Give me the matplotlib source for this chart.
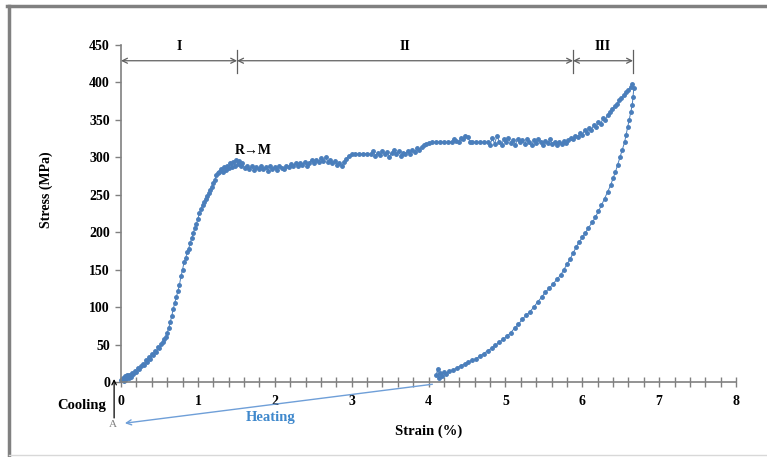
import matplotlib.pyplot as plt
from matplotlib.ticker import MultipleLocator
from matplotlib.lines import Line2D

# loading, elastic rise: strain (%) / stress (MPa)
rise_strain = [0.00, 0.02, 0.04, 0.05, 0.07, 0.08, 0.10, 0.11, 0.13, 0.14,
               0.16, 0.18, 0.20, 0.22, 0.24, 0.26, 0.28, 0.30, 0.32, 0.34,
               0.36, 0.38, 0.40, 0.42, 0.44, 0.46, 0.48, 0.50, 0.52, 0.54,
               0.56, 0.58, 0.60, 0.62, 0.64, 0.66, 0.68, 0.70, 0.72, 0.74,
               0.76, 0.78, 0.80, 0.82, 0.84, 0.86, 0.88, 0.90, 0.92, 0.94,
               0.96, 0.98, 1.00, 1.02, 1.04, 1.06, 1.08, 1.10, 1.12, 1.14,
               1.16, 1.18, 1.20, 1.22, 1.24, 1.26, 1.28, 1.30]
rise_stress = [3, 6, 2, 8, 4, 9, 5, 10, 7, 12,
               11, 15, 13, 19, 17, 22, 24, 23, 29, 27,
               33, 31, 38, 36, 42, 40, 47, 45, 51, 53,
               57, 60, 66, 72, 80, 88, 98, 106, 114, 121,
               130, 141, 150, 160, 165, 173, 178, 186, 192, 199,
               206, 211, 218, 226, 231, 236, 240, 244, 249, 252,
               256, 261, 266, 270, 276, 279, 281, 284]

# loading, stress plateau
plateau_strain = [1.32, 1.34, 1.36, 1.38, 1.40, 1.42, 1.44, 1.46, 1.48, 1.50,
                  1.52, 1.54, 1.56, 1.58, 1.61, 1.64, 1.67, 1.70, 1.73, 1.76,
                  1.79, 1.82, 1.85, 1.88, 1.91, 1.94, 1.97, 2.00, 2.03, 2.06,
                  2.09, 2.12, 2.15, 2.18, 2.21, 2.24, 2.27, 2.30, 2.33, 2.36,
                  2.39, 2.42, 2.45, 2.48, 2.51, 2.54, 2.57, 2.60, 2.63, 2.66,
                  2.69, 2.72, 2.75, 2.78, 2.81, 2.84, 2.87, 2.90, 2.93, 2.96,
                  3.00, 3.05, 3.10, 3.15, 3.20, 3.25, 3.28, 3.31, 3.34, 3.37,
                  3.40, 3.43, 3.46, 3.49, 3.52, 3.55, 3.58, 3.61, 3.64, 3.67,
                  3.70, 3.73, 3.76, 3.79, 3.82, 3.85, 3.88, 3.91, 3.94, 3.97,
                  4.00, 4.05, 4.10, 4.15, 4.20, 4.25, 4.30, 4.33, 4.36, 4.39,
                  4.42, 4.45, 4.48, 4.51, 4.54, 4.57, 4.62, 4.67, 4.72, 4.77,
                  4.80, 4.83, 4.86, 4.89, 4.92, 4.95, 4.98, 5.01, 5.04, 5.07,
                  5.10, 5.13, 5.16, 5.19, 5.22, 5.25, 5.28, 5.31, 5.34, 5.37,
                  5.40, 5.43, 5.46, 5.49, 5.52, 5.55, 5.58, 5.61, 5.64, 5.67,
                  5.70, 5.73, 5.76, 5.79, 5.82, 5.85]
plateau_stress = [280, 287, 283, 289, 286, 292, 287, 294, 289, 297,
                  291, 295, 288, 292, 286, 289, 284, 288, 283, 287,
                  285, 289, 284, 287, 282, 288, 285, 287, 283, 289,
                  286, 284, 289, 287, 291, 288, 292, 289, 293, 290,
                  294, 289, 293, 297, 292, 296, 294, 299, 295, 300,
                  294, 297, 292, 295, 290, 293, 288, 294, 298, 302,
                  304, 305, 304, 305, 305, 304, 308, 302, 306, 303,
                  309, 304, 307, 301, 306, 310, 305, 308, 302, 306,
                  304, 308, 305, 310, 307, 312, 310, 314, 316, 318,
                  319, 320, 320, 321, 320, 320, 321, 325, 322, 320,
                  326, 324, 329, 327, 321, 320, 320, 320, 320, 320,
                  316, 326, 318, 329, 321, 317, 324, 320, 326, 319,
                  323, 317, 325, 320, 323, 318, 324, 320, 316, 323,
                  319, 325, 320, 317, 322, 319, 324, 318, 321, 316,
                  320, 318, 322, 319, 323, 326]

# loading, hardening up to the peak
hard_strain = [5.88, 5.91, 5.94, 5.97, 6.00, 6.03, 6.06, 6.09, 6.12, 6.15,
               6.18, 6.21, 6.24, 6.27, 6.30, 6.33, 6.36, 6.39, 6.42, 6.45,
               6.48, 6.51, 6.54, 6.57, 6.60, 6.63, 6.65]
hard_stress = [324, 329, 327, 332, 330, 336, 333, 339, 337, 343,
               341, 347, 345, 352, 350, 357, 360, 364, 368, 371,
               376, 379, 383, 387, 390, 394, 398]

# unloading branch
unload_strain = [6.67, 6.66, 6.65, 6.63, 6.61, 6.59, 6.57, 6.55, 6.52, 6.49,
                 6.46, 6.43, 6.40, 6.37, 6.33, 6.29, 6.25, 6.21, 6.17, 6.13,
                 6.08, 6.04, 6.00, 5.96, 5.92, 5.88, 5.84, 5.80, 5.76, 5.72,
                 5.67, 5.62, 5.57, 5.52, 5.47, 5.42, 5.37, 5.32, 5.27, 5.22,
                 5.17, 5.12, 5.07, 5.02, 4.97, 4.92, 4.87, 4.82, 4.77, 4.72,
                 4.67, 4.62, 4.57, 4.52, 4.47, 4.42, 4.37, 4.32, 4.27, 4.23,
                 4.20, 4.17, 4.15, 4.13, 4.12, 4.10]
unload_stress = [392, 380, 370, 360, 350, 340, 330, 320, 310, 300,
                 290, 280, 272, 263, 254, 245, 236, 228, 220, 213,
                 206, 199, 193, 187, 180, 172, 164, 157, 150, 143,
                 137, 131, 125, 120, 113, 107, 100, 94, 89, 84,
                 77, 72, 66, 61, 57, 53, 49, 45, 42, 38,
                 35, 31, 29, 27, 24, 22, 19, 16, 15, 11,
                 14, 8, 12, 5, 18, 9]

# stage boundaries (strain %) for I, II, III
stage_edges = [0.0, 1.51, 5.88, 6.66]
stage_names = ['I', 'II', 'III']

blue = '#4A7EBB'
grey = '#808080'
plt.rcParams['font.family'] = ['Liberation Serif', 'DejaVu Serif']

fig = plt.figure(figsize=(7.67, 4.57), dpi=100)
ax = fig.add_axes([0.1578, 0.1641, 0.8018, 0.7374])

strain = rise_strain + plateau_strain + hard_strain + unload_strain
stress = rise_stress + plateau_stress + hard_stress + unload_stress
ax.plot(strain, stress, color=blue, lw=0.7, marker='o', ms=2.5,
        mec=blue, mfc=blue, clip_on=False)

ax.set_xlim(0, 8)
ax.set_ylim(0, 450)
ax.xaxis.set_major_locator(MultipleLocator(1))
ax.xaxis.set_minor_locator(MultipleLocator(0.2))
ax.yaxis.set_major_locator(MultipleLocator(50))
for s in ['top', 'right']:
    ax.spines[s].set_visible(False)
for s in ['left', 'bottom']:
    ax.spines[s].set_color(grey)
    ax.spines[s].set_linewidth(1.2)
ax.tick_params(axis='y', direction='out', length=4, width=1, color=grey, pad=4)
ax.tick_params(axis='x', which='both', direction='inout', length=7, width=1,
               color=grey, pad=6)
for lab in ax.get_xticklabels() + ax.get_yticklabels():
    lab.set_fontweight('bold')
    lab.set_fontsize(10)

ax.set_xlabel('Strain (%)', fontweight='bold', fontsize=10.5)
ax.xaxis.set_label_coords(0.50, -0.125)
ax.set_ylabel('Stress (MPa)', fontweight='bold', fontsize=10)
ax.yaxis.set_label_coords(-0.11, 0.57)

# dimension arrows marking the three stages
for i, name in enumerate(stage_names):
    x0, x1 = stage_edges[i], stage_edges[i + 1]
    ax.annotate('', xy=(x1, 429), xytext=(x0, 429),
                arrowprops=dict(arrowstyle='<->', color='#606060', lw=0.9,
                                shrinkA=0, shrinkB=0, mutation_scale=9),
                annotation_clip=False)
    ax.text((x0 + x1) / 2, 439, name, ha='center', va='bottom',
            fontweight='bold', fontsize=10)
for xe in stage_edges[1:]:
    ax.plot([xe, xe], [413, 443], color='#606060', lw=0.9, clip_on=False)

ax.text(1.72, 301, 'R\u2192M', ha='center', va='bottom', fontweight='bold', fontsize=10)

# cooling / heating annotations below the axis
ax.annotate('', xy=(-0.09, 4), xytext=(-0.09, -48),
            arrowprops=dict(arrowstyle='->', color='black', lw=0.9,
                            shrinkA=0, shrinkB=0, mutation_scale=8),
            annotation_clip=False)
ax.text(-0.2, -31, 'Cooling', ha='right', va='center', fontweight='bold', fontsize=10.5)
ax.text(-0.10, -57, 'A', ha='center', va='center', color=grey, fontsize=8)
ax.annotate('', xy=(0.05, -55), xytext=(4.05, -3),
            arrowprops=dict(arrowstyle='->', color='#6F9FD8', lw=1.0,
                            shrinkA=0, shrinkB=0, mutation_scale=9),
            annotation_clip=False)
ax.text(1.95, -47, 'Heating', ha='center', va='center', color='#3F88CC',
        fontweight='bold', fontsize=10.5)

# outer frame
fig.add_artist(Line2D([8.5 / 767, 8.5 / 767], [0, 1 - 6 / 457],
                      transform=fig.transFigure, color=grey, lw=2.5))
fig.add_artist(Line2D([7 / 767, 1], [1 - 6 / 457, 1 - 6 / 457],
                      transform=fig.transFigure, color=grey, lw=2.5))
fig.add_artist(Line2D([8.5 / 767, 1], [2.5 / 457, 2.5 / 457],
                      transform=fig.transFigure, color='#d8d8d8', lw=1))

fig.savefig('out.png', dpi=100)
